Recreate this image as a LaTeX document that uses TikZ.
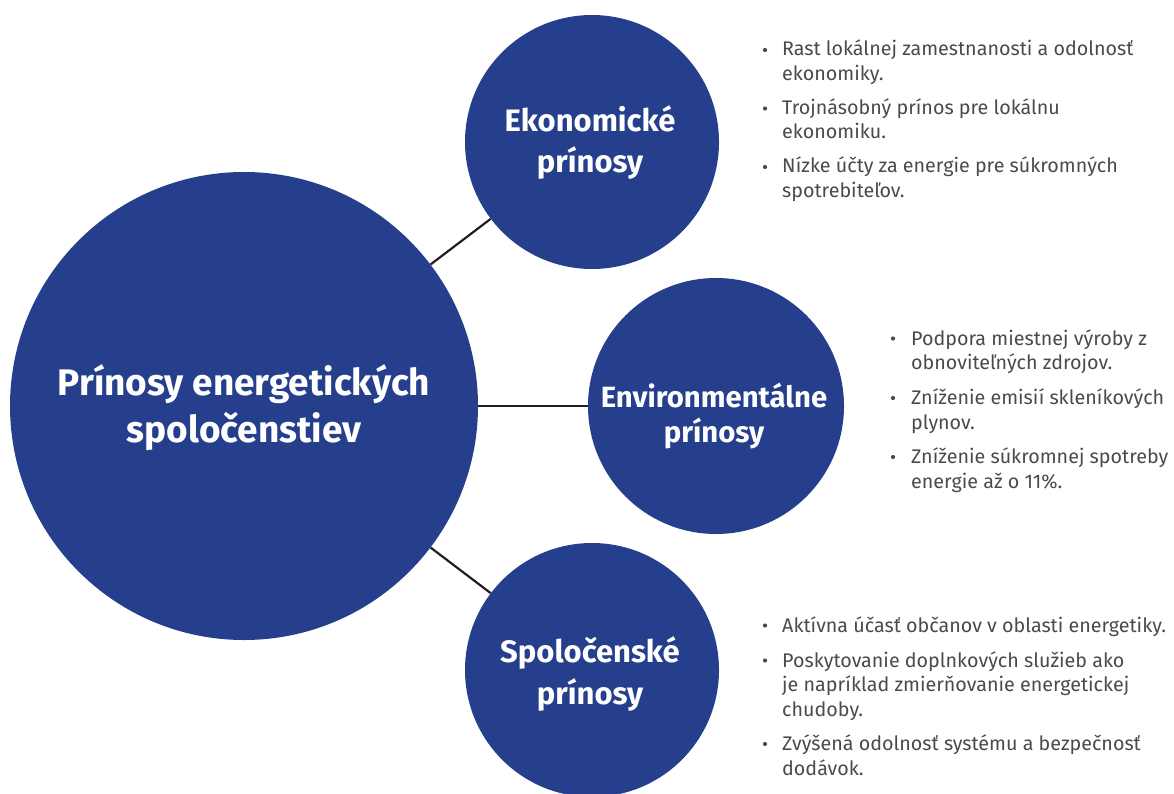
\documentclass[tikz,border=0pt]{standalone}
\usepackage{fontspec}
\setmainfont{Fira Sans}
\definecolor{blueC}{HTML}{263F8C}
\definecolor{txtC}{HTML}{4A4A4A}
\definecolor{lineC}{HTML}{231F20}
\begin{document}
\begin{tikzpicture}[x=1pt,y=-1pt,
  bubble/.style={circle, fill=blueC, inner sep=0pt},
  title/.style={anchor=base, inner sep=0pt, text=white, align=center},
  conn/.style={draw=lineC, line width=2.2pt},
  bul/.style={circle, fill=txtC, inner sep=0pt, minimum size=4.2pt},
  btext/.style={anchor=base west, inner sep=0pt, align=left, text=txtC, font=\fontsize{19.7}{24.5}\selectfont}]
\useasboundingbox (0,0) rectangle (1174,794);
\clip (0,0) rectangle (1174,794);
\node[bubble, minimum size=468pt] (main) at (244,406) {};
\node[bubble, minimum size=254pt] (eko) at (592,142) {};
\node[bubble, minimum size=256pt] (env) at (716,406) {};
\node[bubble, minimum size=254pt] (spo) at (592,670) {};
\node[title, font=\bfseries\fontsize{37}{47}\selectfont] (mainT) at (244,442) {Prínosy energetických\\spoločenstiev};
\node[title, font=\bfseries\fontsize{31}{41}\selectfont] (ekoT) at (590,173) {Ekonomické\\prínosy};
\node[title, font=\bfseries\fontsize{29.3}{35}\selectfont] (envT) at (714,442) {Environmentálne\\prínosy};
\node[title, font=\bfseries\fontsize{31}{42}\selectfont] (spoT) at (590,704) {Spoločenské\\prínosy};
\draw[conn] (main) -- (eko);
\draw[conn] (main) -- (env);
\draw[conn] (main) -- (spo);
% economic
\node[bul] (b1) at (765,50) {};
\node[btext] (t1) at (782,80.5) {Rast lokálnej zamestnanosti a odolnosť\\ekonomiky.};
\node[bul] (b2) at (765,108.5) {};
\node[btext] (t2) at (782,139) {Trojnásobný prínos pre lokálnu\\ekonomiku.};
\node[bul] (b3) at (765,167) {};
\node[btext] (t3) at (782,197.5) {Nízke účty za energie pre súkromných\\spotrebiteľov.};
% environmental
\node[bul] (b4) at (893,338.5) {};
\node[btext] (t4) at (911,369.5) {Podpora miestnej výroby z\\obnoviteľných zdrojov.};
\node[bul] (b5) at (893,398) {};
\node[btext] (t5) at (911,429) {Zníženie emisií skleníkových\\plynov.};
\node[bul] (b6) at (893,457) {};
\node[btext] (t6) at (911,488) {Zníženie súkromnej spotreby\\energie až o 11\%.};
% social
\node[bul] (b7) at (765,625.5) {};
\node[btext] (t7) at (782,632) {Aktívna účasť občanov v oblasti energetiky.};
\node[bul] (b8) at (765,660.5) {};
\node[btext] (t8) at (782,716) {Poskytovanie doplnkových služieb ako\\je napríklad zmierňovanie energetickej\\chudoby.};
\node[bul] (b9) at (765,744) {};
\node[btext] (t9) at (782,775) {Zvýšená odolnosť systému a bezpečnosť\\dodávok.};
\end{tikzpicture}
\end{document}
